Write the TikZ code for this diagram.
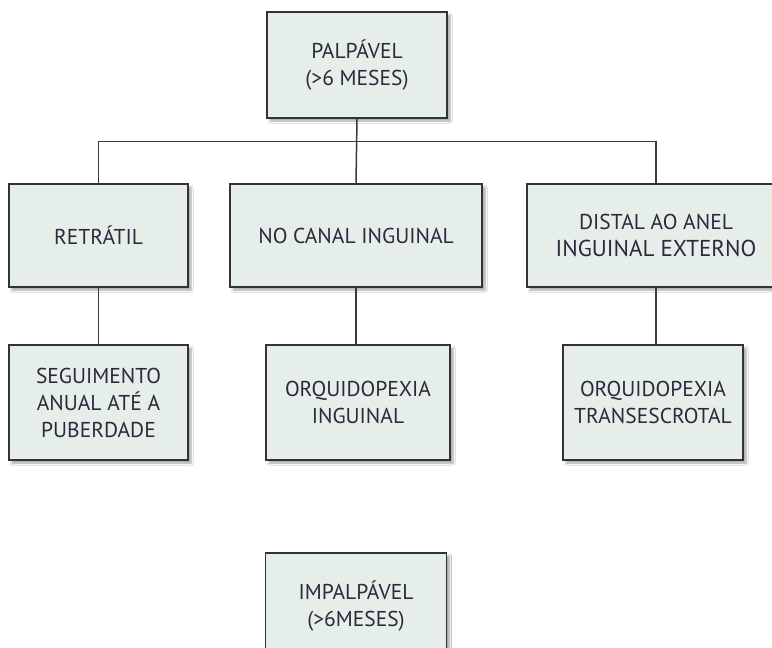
\documentclass[tikz,border=0pt]{standalone}
\usepackage{fontspec}
\setmainfont{PT Sans}
\usetikzlibrary{shadows.blur}
\definecolor{boxfill}{HTML}{E6EEEA}
\definecolor{boxdraw}{HTML}{333333}
\definecolor{txt}{HTML}{2A2A3C}
\definecolor{wire}{HTML}{3A3A3A}
\begin{document}
\begin{tikzpicture}[x=1pt,y=-1pt,
  box/.style={draw=boxdraw, fill=boxfill, line width=1.3pt, inner sep=0pt,
    align=center, text=txt, font=\fontsize{21.5}{27}\selectfont,
    blur shadow={shadow xshift=3pt, shadow yshift=-3pt, shadow blur steps=6, shadow opacity=35}},
  wire/.style={draw=wire, line width=1.5pt}]
\clip (0,0) rectangle (772,648);
\fill[white] (0,0) rectangle (772,648);
% top
\node[box, minimum width=180pt, minimum height=106pt] (top) at (357,65) {PALPÁVEL\\(>6 MESES)};
% row 2
\node[box, minimum width=179pt, minimum height=103pt] (ret) at (98.5,235.5) {RETRÁTIL};
\node[box, minimum width=252pt, minimum height=103pt] (can) at (356,235.5) {NO CANAL INGUINAL};
\node[box, minimum width=258pt, minimum height=103pt] (dis) at (656,235.5) {DISTAL AO ANEL\\{\fontsize{23}{27}\selectfont INGUINAL EXTERNO}};
% row 3
\node[box, minimum width=179pt, minimum height=115pt] (seg) at (98.5,402.5) {SEGUIMENTO\\ANUAL ATÉ A\\PUBERDADE};
\node[box, minimum width=184pt, minimum height=115pt] (oin) at (358,402.5) {ORQUIDOPEXIA\\INGUINAL};
\node[box, minimum width=180pt, minimum height=115pt] (otr) at (653,402.5) {ORQUIDOPEXIA\\TRANSESCROTAL};
% bottom
\node[box, minimum width=181pt, minimum height=106pt] (imp) at (356,606) {IMPALPÁVEL\\(>6MESES)};
% connectors
\coordinate (bus) at (357,141.5);
\draw[wire] (top.south) -- (can.north);
\draw[wire] (ret.north) |- (bus) -| (dis.north);
\draw[wire] (ret.south) -- (seg.north);
\draw[wire] (can.south) -- (oin.north -| can.south);
\draw[wire] (dis.south) -- (dis.south |- otr.north);
\end{tikzpicture}
\end{document}
